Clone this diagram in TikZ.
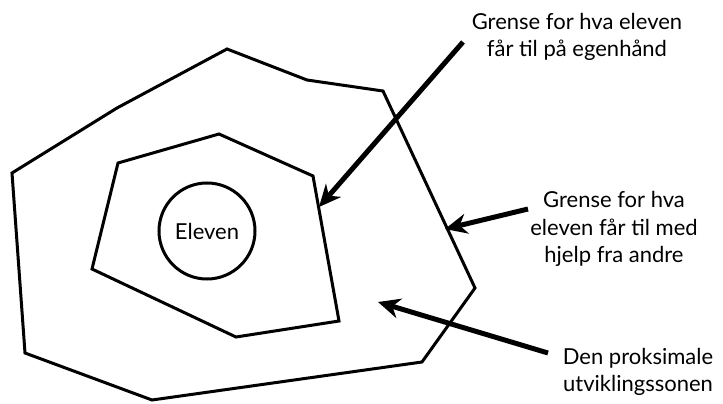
\documentclass[tikz,border=0pt]{standalone}
\usepackage{fontspec}
\setmainfont{Lato}
\usetikzlibrary{arrows.meta}
\begin{document}
\begin{tikzpicture}[x=1pt,y=-1pt,
  shape line/.style={line width=3pt,line join=miter},
  pointer/.style={line width=5pt,-{Stealth[length=22pt,width=20pt,inset=7pt]}},
  label text/.style={font=\fontsize{22}{27.5}\selectfont,align=center,inner sep=0pt}]
\useasboundingbox (0,0) rectangle (723,404);
% outer region
\draw[shape line] (227,49) -- (307,80) -- (383,91) -- (475,288) -- (422,362) -- (152,400) -- (25,353) -- (12,173) -- (117,108) -- cycle;
% inner region
\draw[shape line] (219,134) -- (313,176) -- (339,321) -- (236,337) -- (92,269) -- (118,163) -- cycle;
% learner
\node[circle,draw,line width=3pt,minimum size=96pt,inner sep=0pt,font=\fontsize{22}{24}\selectfont] (elev) at (207,231) {Eleven};
% labels
\node[label text] (t1) at (577,37) {Grense for hva eleven\\får til på egenhånd};
\node[label text] (t2) at (614,229) {Grense for hva\\eleven får til med\\hjelp fra andre};
\node[label text] (t3) at (638,372) {Den proksimale\\utviklingssonen};
% arrows
\coordinate (s1) at (463,42);
\coordinate (e1) at (319,207);
\coordinate (s2) at (528,209);
\coordinate (e2) at (445,229);
\coordinate (s3) at (548,353);
\coordinate (e3) at (378,302);
\draw[pointer] (s1) -- (e1);
\draw[pointer] (s2) -- (e2);
\draw[pointer] (s3) -- (e3);
\end{tikzpicture}
\end{document}
